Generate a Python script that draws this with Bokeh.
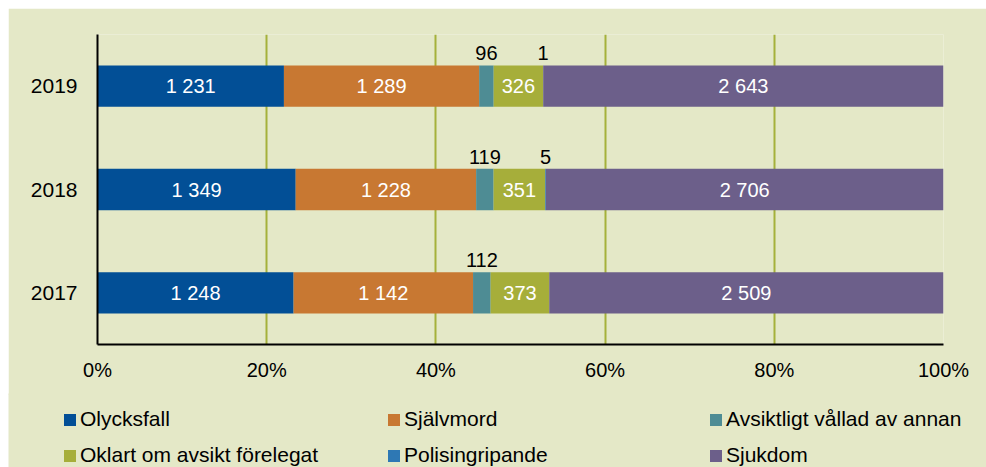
from bokeh.plotting import figure
from bokeh.models import (ColumnDataSource, FactorRange, Range1d, FixedTicker,
                          NumeralTickFormatter, Legend, LegendItem)
from bokeh.core.properties import value
from bokeh.embed import file_html
from bokeh.resources import INLINE

years = ["2017", "2018", "2019"]
series_names = ["Olycksfall", "Självmord", "Avsiktligt vållad av annan",
                "Oklart om avsikt förelegat", "Polisingripande", "Sjukdom"]
olycksfall = [1248, 1349, 1231]
sjalvmord = [1142, 1228, 1289]
avsiktligt = [112, 119, 96]
oklart = [373, 351, 326]
polis = [0, 5, 1]
sjukdom = [2509, 2706, 2643]
colors = ["#024F96", "#C87832", "#4E8C94", "#A6AE3A", "#2E78B4", "#6C5F8A"]
inside = [True, True, False, True, False, True]
x_ticks = [0, 0.2, 0.4, 0.6, 0.8, 1.0]

FONT = "Liberation Sans"
BG = "#E4E8C7"

series = [olycksfall, sjalvmord, avsiktligt, oklart, polis, sjukdom]
keys = ["s%d" % i for i in range(len(series))]
totals = [sum(s[j] for s in series) for j in range(len(years))]
data = {"year": years}
for k, s in zip(keys, series):
    data[k] = [v / t for v, t in zip(s, totals)]
src = ColumnDataSource(data)

p = figure(width=978, height=387, y_range=FactorRange(factors=years, range_padding=0),
           x_range=Range1d(0, 1), output_backend="svg", toolbar_location=None,
           min_border_left=89, min_border_right=43, min_border_top=26, min_border_bottom=51,
           margin=(8, 0, 0, 8))
p.background_fill_color = BG
p.border_fill_color = BG
p.outline_line_color = None

renderers = p.hbar_stack(keys, y="year", height=0.4, color=colors, source=src,
                         line_color=None)

# value labels
lab_in = {"x": [], "y": [], "t": []}
lab_out = {"x": [], "y": [], "t": []}
for j, yr in enumerate(years):
    cum = 0.0
    for i, s in enumerate(series):
        frac = s[j] / totals[j]
        mid = cum + frac / 2
        cum += frac
        if s[j] == 0:
            continue
        txt = "{:,}".format(s[j]).replace(",", " ")
        if inside[i]:
            lab_in["x"].append(mid); lab_in["y"].append((yr, 0)); lab_in["t"].append(txt)
        else:
            lab_out["x"].append(mid); lab_out["y"].append((yr, 0.2)); lab_out["t"].append(txt)

p.text(x="x", y="y", text="t", source=ColumnDataSource(lab_in), text_color="white",
       text_font=value(FONT), text_font_size="20px", text_align="center",
       text_baseline="middle")
p.text(x="x", y="y", text="t", source=ColumnDataSource(lab_out), text_color="black",
       text_font=value(FONT), text_font_size="20px", text_align="center",
       text_baseline="middle", y_offset=-12)

# axes
p.xaxis.ticker = FixedTicker(ticks=x_ticks)
p.xaxis.formatter = NumeralTickFormatter(format="0%")
for ax in (p.xaxis[0], p.yaxis[0]):
    ax.axis_line_color = "black"
    ax.axis_line_width = 2
    ax.major_tick_line_color = None
    ax.minor_tick_line_color = None
    ax.major_label_text_font = FONT
    ax.major_label_text_color = "black"
p.xaxis.major_label_text_font_size = "20px"
p.xaxis.major_label_standoff = 8
p.yaxis.major_label_text_font_size = "21px"
p.yaxis.major_label_standoff = 14
p.ygrid.grid_line_color = None
p.xgrid.grid_line_color = "#A5B13A"
p.xgrid.grid_line_width = 2

# legend figure below the chart (separate root, so frames are not aligned)
lf = figure(width=978, height=74, x_range=Range1d(0, 1), y_range=Range1d(0, 1),
            output_backend="svg", toolbar_location=None,
            x_axis_location=None, y_axis_location=None,
            min_border_left=0, min_border_right=0, min_border_top=0, min_border_bottom=0,
            margin=(-2, 0, 0, 8))
lf.background_fill_color = BG
lf.border_fill_color = BG
lf.outline_line_color = None
lf.xgrid.grid_line_color = None
lf.ygrid.grid_line_color = None
leg_r = [lf.rect(x=[-10], y=[-10], width=1, height=1, fill_color=c, line_color=None)
         for c in colors]

col_x = [54, 378, 700]
for c in range(3):
    items = [LegendItem(label=series_names[c], renderers=[leg_r[c]]),
             LegendItem(label=series_names[c + 3], renderers=[leg_r[c + 3]])]
    lg = Legend(items=items, location=(col_x[c], 0), orientation="vertical",
                background_fill_alpha=0, border_line_alpha=0, padding=0, margin=0,
                spacing=12, glyph_width=15, glyph_height=15, label_height=24,
                label_standoff=3, label_text_font=FONT, label_text_font_size="21px",
                label_text_color="black", label_text_baseline="middle")
    lf.add_layout(lg, "center")

open("out.html", "w").write(file_html([p, lf], INLINE))
